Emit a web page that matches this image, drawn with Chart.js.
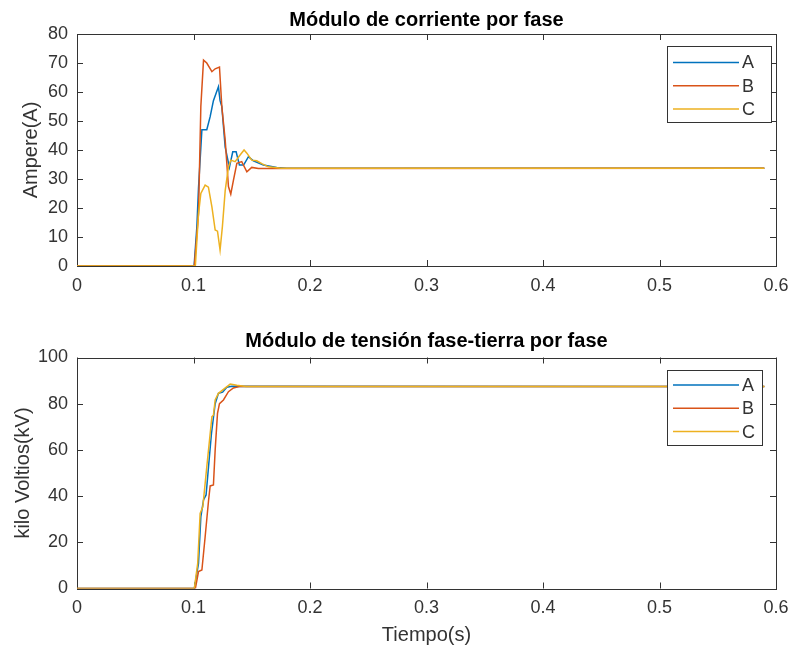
<!DOCTYPE html>
<html>
<head>
<meta charset="utf-8">
<script src="https://cdn.jsdelivr.net/npm/chart.js@4/dist/chart.umd.min.js"></script>
<style>
  body { margin: 0; background: #fff; width: 798px; height: 655px; position: relative; overflow: hidden; }
  canvas { position: absolute; left: 0; }
</style>
</head>
<body>
<canvas id="corriente" width="798" height="310" style="top:0px"></canvas>
<canvas id="tension" width="798" height="335" style="top:320px"></canvas>
<script>
// ticks
const timeTicks = [0, 0.1, 0.2, 0.3, 0.4, 0.5, 0.6];
const currentTicks = [0, 10, 20, 30, 40, 50, 60, 70, 80];
const voltageTicks = [0, 20, 40, 60, 80, 100];
const phases = ['A', 'B', 'C'];

// modulo de corriente [t (s), A]
const currentA = [[0, 0], [0.1005, 0], [0.1029, 13.6], [0.1043, 27], [0.1072, 47], [0.1114, 47], [0.1143, 51.5],
  [0.1171, 57], [0.1214, 61.8], [0.1228, 57], [0.1243, 55], [0.1272, 41], [0.1308, 34], [0.1337, 39.4],
  [0.1366, 39.4], [0.1394, 34.8], [0.143, 34.8], [0.1472, 37.7], [0.1514, 36.3], [0.16, 34.8], [0.1715, 34],
  [0.18, 33.7], [0.59, 33.7]];
const currentB = [[0, 0], [0.1007, 0], [0.1043, 18], [0.1063, 55], [0.1086, 71], [0.1114, 70], [0.1158, 67],
  [0.1186, 68], [0.1223, 68.6], [0.1243, 55], [0.1272, 43.4], [0.13, 27.4], [0.132, 24.8], [0.1343, 29.6],
  [0.1372, 35.4], [0.1414, 36], [0.1458, 32.5], [0.15, 34], [0.1557, 33.6], [0.59, 33.7]];
const currentC = [[0, 0], [0.1016, 0], [0.1043, 18], [0.1063, 25], [0.11, 27.9], [0.1128, 27.2], [0.1158, 20.4],
  [0.1186, 12.4], [0.1206, 12], [0.1228, 5.5], [0.1248, 13.6], [0.1272, 26], [0.13, 34.2], [0.132, 36.5],
  [0.1357, 36], [0.14, 38.3], [0.1434, 40], [0.1458, 38.9], [0.15, 36.5], [0.1543, 36.3], [0.1586, 35.3],
  [0.1643, 34.2], [0.175, 33.7], [0.59, 33.7]];

// modulo de tension fase-tierra [t (s), kV]
const voltageA = [[0, 0], [0.1007, 0], [0.1043, 10.9], [0.1063, 31], [0.1086, 38.3], [0.1108, 40.5], [0.1129, 52.7],
  [0.1154, 67], [0.1186, 80], [0.1214, 84.5], [0.125, 85], [0.1286, 87.1], [0.133, 87.6], [0.59, 87.5]];
const voltageB = [[0, 0], [0.1016, 0], [0.1043, 7.3], [0.1072, 8], [0.11, 22.4], [0.1129, 38], [0.1143, 44.4],
  [0.1171, 44.8], [0.1186, 60], [0.1206, 75.8], [0.1223, 80], [0.1257, 81.6], [0.13, 85.2], [0.1343, 86.8],
  [0.14, 87.5], [0.59, 87.5]];
const voltageC = [[0, 0], [0.1007, 0], [0.1036, 10.9], [0.1057, 32.5], [0.108, 35.4], [0.1114, 52.7], [0.1158, 74.4],
  [0.1171, 75], [0.1186, 81.6], [0.1214, 84.5], [0.1257, 86.2], [0.1315, 88.5], [0.1372, 88], [0.145, 87.5],
  [0.59, 87.5]];

const colors = ['#0072BD', '#D95319', '#EDB120'];
const axisColor = '#333333';
const fontFamily = '"Liberation Sans", Arial, sans-serif';

// matlab style box with ticks pointing inwards
const framePlugin = {
  id: 'frame',
  beforeDatasetsDraw(chart) {
    const { ctx, chartArea: a, scales } = chart;
    ctx.save();
    ctx.strokeStyle = axisColor;
    ctx.lineWidth = 1;
    ctx.strokeRect(Math.round(a.left) + 0.5, Math.round(a.top) + 0.5,
      Math.round(a.right - a.left), Math.round(a.bottom - a.top));
    ctx.beginPath();
    scales.x.ticks.forEach(t => {
      const px = Math.round(scales.x.getPixelForValue(t.value)) + 0.5;
      ctx.moveTo(px, a.bottom); ctx.lineTo(px, a.bottom - 6);
      ctx.moveTo(px, a.top); ctx.lineTo(px, a.top + 6);
    });
    scales.y.ticks.forEach(t => {
      const py = Math.round(scales.y.getPixelForValue(t.value)) + 0.5;
      ctx.moveTo(a.left, py); ctx.lineTo(a.left + 6, py);
      ctx.moveTo(a.right, py); ctx.lineTo(a.right - 6, py);
    });
    ctx.stroke();
    ctx.restore();
  }
};

// boxed legend inside the axes
const boxLegendPlugin = {
  id: 'boxLegend',
  afterDatasetsDraw(chart, args, opts) {
    const ctx = chart.ctx;
    ctx.save();
    ctx.fillStyle = '#ffffff';
    ctx.fillRect(opts.left, opts.top, opts.width, opts.height);
    ctx.strokeStyle = axisColor;
    ctx.lineWidth = 1;
    ctx.strokeRect(opts.left + 0.5, opts.top + 0.5, opts.width, opts.height);
    ctx.font = '18px ' + fontFamily;
    ctx.textBaseline = 'middle';
    ctx.textAlign = 'left';
    chart.data.datasets.forEach((ds, i) => {
      const y = opts.top + opts.firstRow + i * opts.rowGap;
      ctx.strokeStyle = ds.borderColor;
      ctx.lineWidth = 1.5;
      ctx.beginPath();
      ctx.moveTo(opts.left + 6, y);
      ctx.lineTo(opts.left + 72, y);
      ctx.stroke();
      ctx.fillStyle = axisColor;
      ctx.fillText(ds.label, opts.left + 75, y + 1);
    });
    ctx.restore();
  }
};

function toPoints(pairs) {
  return pairs.map(p => ({ x: p[0], y: p[1] }));
}

function makeChart(id, cfg) {
  const datasets = cfg.series.map((s, i) => ({
    label: phases[i],
    data: toPoints(s),
    borderColor: colors[i],
    borderWidth: 1.5,
    pointRadius: 0,
    tension: 0,
    fill: false,
    order: 3 - i
  }));

  return new Chart(document.getElementById(id), {
    type: 'line',
    data: { datasets: datasets },
    plugins: [framePlugin, boxLegendPlugin],
    options: {
      responsive: false,
      animation: false,
      layout: { padding: { left: 0, right: 22, top: 0, bottom: 0 } },
      plugins: {
        legend: { display: false },
        tooltip: { enabled: false },
        title: {
          display: true,
          text: cfg.title,
          fullSize: false,
          color: '#000',
          font: { family: fontFamily, size: 20, weight: 'bold' },
          padding: cfg.titlePadding
        },
        boxLegend: cfg.legend
      },
      scales: {
        x: {
          type: 'linear',
          min: 0,
          max: 0.6,
          grid: { display: false, drawTicks: false },
          border: { display: false },
          afterBuildTicks: s => { s.ticks = timeTicks.map(v => ({ value: v })); },
          afterFit: s => { s.height = cfg.xHeight; },
          ticks: {
            color: axisColor,
            padding: 9,
            maxRotation: 0,
            font: { family: fontFamily, size: 18 },
            callback: v => String(+v.toFixed(1))
          },
          title: {
            display: !!cfg.xTitle,
            text: cfg.xTitle || '',
            color: axisColor,
            font: { family: fontFamily, size: 20 },
            padding: { top: 0, bottom: 8 }
          }
        },
        y: {
          type: 'linear',
          min: 0,
          max: cfg.yMax,
          grid: { display: false, drawTicks: false },
          border: { display: false },
          afterBuildTicks: s => { s.ticks = cfg.yTicks.map(v => ({ value: v })); },
          afterFit: s => { s.width = 77; },
          ticks: {
            color: axisColor,
            padding: 9,
            font: { family: fontFamily, size: 18 }
          },
          title: {
            display: true,
            text: cfg.yTitle,
            color: axisColor,
            font: { family: fontFamily, size: 20 },
            padding: { top: cfg.yTitleOffset, bottom: 0 }
          }
        }
      }
    }
  });
}

makeChart('corriente', {
  title: 'Módulo de corriente por fase',
  titlePadding: { top: 8, bottom: 2 },
  series: [currentA, currentB, currentC],
  yTicks: currentTicks,
  yMax: 80,
  yTitle: 'Ampere(A)',
  yTitleOffset: 19,
  xHeight: 44,
  legend: { left: 667, top: 46, width: 104, height: 76, firstRow: 16.5, rowGap: 23.3 }
});

makeChart('tension', {
  title: 'Módulo de tensión fase-tierra por fase',
  titlePadding: { top: 9, bottom: 4.5 },
  series: [voltageA, voltageB, voltageC],
  yTicks: voltageTicks,
  yMax: 100,
  yTitle: 'kilo Voltios(kV)',
  yTitleOffset: 11,
  xTitle: 'Tiempo(s)',
  xHeight: 66.5,
  legend: { left: 667, top: 50, width: 95, height: 75, firstRow: 15, rowGap: 23.3 }
});
</script>
</body>
</html>
